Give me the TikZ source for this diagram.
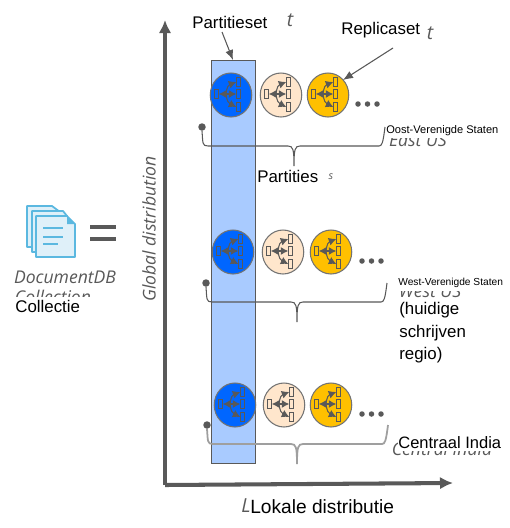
\documentclass[tikz,border=0pt]{standalone}
\usepackage{fontspec}
\setmainfont{Liberation Sans}
\newfontfamily\ghostfont[ItalicFont={Open Sans Italic}]{Open Sans}
\usepackage{xcolor}
\usetikzlibrary{positioning,calc,arrows.meta,shapes.geometric}
\definecolor{linegray}{HTML}{595959}
\definecolor{bandblue}{HTML}{A9CBFF}
\definecolor{nodeblue}{HTML}{0066FF}
\definecolor{nodecream}{HTML}{FFE6CC}
\definecolor{nodegold}{HTML}{FFC000}
\definecolor{docblue}{HTML}{5BB8E0}
\definecolor{docfill}{HTML}{DFF0F9}
\tikzset{
	replica/.style={ellipse,minimum width=0.83cm,minimum height=0.88cm,inner sep=0pt,draw=gray!90!black,line width=0.6pt},
	member/.style={rectangle,minimum width=0.08cm,minimum height=0.18cm,inner sep=0pt,draw=linegray,line width=0.6pt},
	flow/.style={-{Latex[length=0.15cm,width=0.16cm]},draw=linegray,line width=0.6pt},
	axis/.style={-{Latex[length=0.26cm,width=0.25cm]},draw=linegray,line width=2.3pt},
	bracket/.style={draw=linegray,line width=0.6pt},
	pointer/.style={-{Latex[length=0.2cm,width=0.16cm]},draw=linegray,line width=0.6pt},
	label/.style={inner sep=0pt,fill=white,text=black,font=\fontsize{9.6pt}{11pt}\selectfont},
	ghost/.style={inner sep=0pt,text=linegray,font=\ghostfont\itshape\fontsize{10pt}{11pt}\selectfont},
	page/.style={draw=docblue,fill=docfill,line width=1pt,line join=round},
}
\newcommand{\replicanode}[4]{
	\node[replica,fill=#4] (#1) at (#2,#3) {};
	\node[member,shift={(-14.7,-1)}] (#1l) at (#1) {};
	\node[member,shift={(7.8,-13)}] (#1a) at (#1) {};
	\node[member,shift={(7.8,-1)}] (#1b) at (#1) {};
	\node[member,shift={(7.8,12)}] (#1c) at (#1) {};
	\coordinate[shift={(-5,-1)}] (#1h) at (#1);
	\draw[flow] (#1h) -- (#1l.east);
	\draw[flow] (#1h) -- (#1b.west);
	\draw[flow] (#1h) .. controls ($(#1h)+(1,-7)$) and ($(#1a.west)+(-8,3)$) .. (#1a.west);
	\draw[flow] (#1h) .. controls ($(#1h)+(1,7)$) and ($(#1c.west)+(-8,-4)$) .. (#1c.west);
}
\begin{document}
\begin{tikzpicture}[x=0.02cm,y=-0.02cm]
	\useasboundingbox (0,0) rectangle (510,528);
	\fill[white] (0,0) rectangle (510,528);

	\node[rectangle,minimum width=0.88cm,minimum height=8.06cm,draw=linegray,fill=bandblue,line width=0.7pt] (band) at (233.5,262) {};

	\coordinate (origin) at (165,485);
	\coordinate (ytip) at (165,20);
	\coordinate (xtip) at (453,483);
	\draw[axis] (origin) -- (ytip);
	\draw[axis] (origin) -- (xtip);

	\foreach \r/\y/\xa/\xb/\xc/\xd/\dy in {1/95/231/281/328/358/9,2/252/233/283/331/362/9,3/405/235/284/331/362/9}{
		\replicanode{blue\r}{\xa}{\y}{nodeblue}
		\replicanode{cream\r}{\xb}{\y}{nodecream}
		\replicanode{gold\r}{\xc}{\y}{nodegold}
		\foreach \i in {0,1,2}{
			\fill[linegray] (\xd+9.5*\i,\y+\dy) circle (0.055cm);
		}
	}

	\foreach \r/\x/\y/\sx/\ex/\col/\lw in {1/202/127/294/385/linegray/0.6pt,2/206/283/297/387/linegray/0.6pt,3/207/425/297/388/gray!75/1pt}{
		\node[circle,fill=linegray,minimum size=0.15cm,inner sep=0pt] (dot\r) at (\x,\y) {};
		\coordinate (spike\r) at (\sx,\y+39);
		\coordinate (end\r) at (\ex,\y);
		\draw[bracket,draw=\col,line width=\lw] (dot\r.south) .. controls (\x+1,\y+16) and (\x,\y+19) .. (\x+6,\y+19) -- (\sx-6,\y+19) .. controls (\sx-1,\y+19) and (\sx,\y+22) .. (spike\r) .. controls (\sx,\y+22) and (\sx+1,\y+19) .. (\sx+6,\y+19) -- (\ex-6,\y+19) .. controls (\ex-3,\y+19) and (\ex-2,\y+16) .. (end\r);
	}

	\node[ghost] (east) at (418,140) {East US};
	\node[ghost] (west) at (430,291) {West US};
	\node[ghost] (central) at (442,449) {Central India};
	\node[ghost] (collection) at (53,297) {Collection};
	\node[ghost] (docdb) at (65,277) {DocumentDB};
	\node[ghost,rotate=90] (globaldist) at (149,229) {Global distribution};
	\node[ghost,font=\ghostfont\itshape\fontsize{11pt}{12pt}\selectfont] (tpart) at (290,20) {t};
	\node[ghost,font=\ghostfont\itshape\fontsize{11pt}{12pt}\selectfont] (trepl) at (430,33) {t};
	\node[ghost,font=\ghostfont\itshape\fontsize{11pt}{12pt}\selectfont] (llocal) at (246,506) {L};
	\node[ghost,font=\ghostfont\itshape\fontsize{6pt}{7pt}\selectfont] (sfrag) at (331,177) {s};

	\node[label,anchor=west] (partset) at (192,22) {Partitieset};
	\node[label,anchor=west] (replset) at (341,30) {Replicaset};
	\node[label,anchor=west] (parts) at (257,176) {Partities};
	\node[label,anchor=west,font=\fontsize{6.3pt}{7pt}\selectfont,minimum height=0.26cm] (oost) at (386,131) {Oost-Verenigde Staten};
	\node[label,anchor=west,font=\fontsize{5.8pt}{7pt}\selectfont,minimum height=0.3cm] (westlab) at (398,283) {West-Verenigde Staten};
	\node[label,anchor=north west,align=left,font=\fontsize{9.6pt}{12.8pt}\selectfont] (writeregion) at (399,302) {(huidige\\schrijven\\regio)};
	\node[label,anchor=west,font=\fontsize{9.4pt}{12pt}\selectfont,minimum height=0.32cm] (centraal) at (398,443) {Centraal India};
	\node[label,anchor=west,font=\fontsize{10.9pt}{12pt}\selectfont] (lokaal) at (250,507) {Lokale distributie};
	\node[label,anchor=west,minimum height=0.36cm,text width=1.6cm] (collectie) at (15,306) {Collectie};

	\coordinate (bandtop) at (233,60);
	\coordinate (replarrow) at (343,80);
	\draw[pointer] (222,32) -- (bandtop);
	\draw[pointer] (393,48) -- (replarrow);

	\draw[page] (27,206) -- (52,206) -- (60,212) -- (60,247) -- (27,247) -- cycle;
	\draw[page] (32,211) -- (63,211) -- (67,216) -- (67,252) -- (32,252) -- cycle;
	\draw[page] (36,216) -- (67,216) -- (75,224) -- (75,257) -- (36,257) -- cycle;
	\fill[docblue] (67,216) -- (75,224) -- (67,224) -- cycle;
	\draw[docblue,line width=1pt] (43,228) -- (63,228) (43,237) -- (63,237) (43,244) -- (58,244);

	\fill[linegray] (90,224.5) rectangle (116,228.5);
	\fill[linegray] (90,237) rectangle (116,241);
\end{tikzpicture}
\end{document}
